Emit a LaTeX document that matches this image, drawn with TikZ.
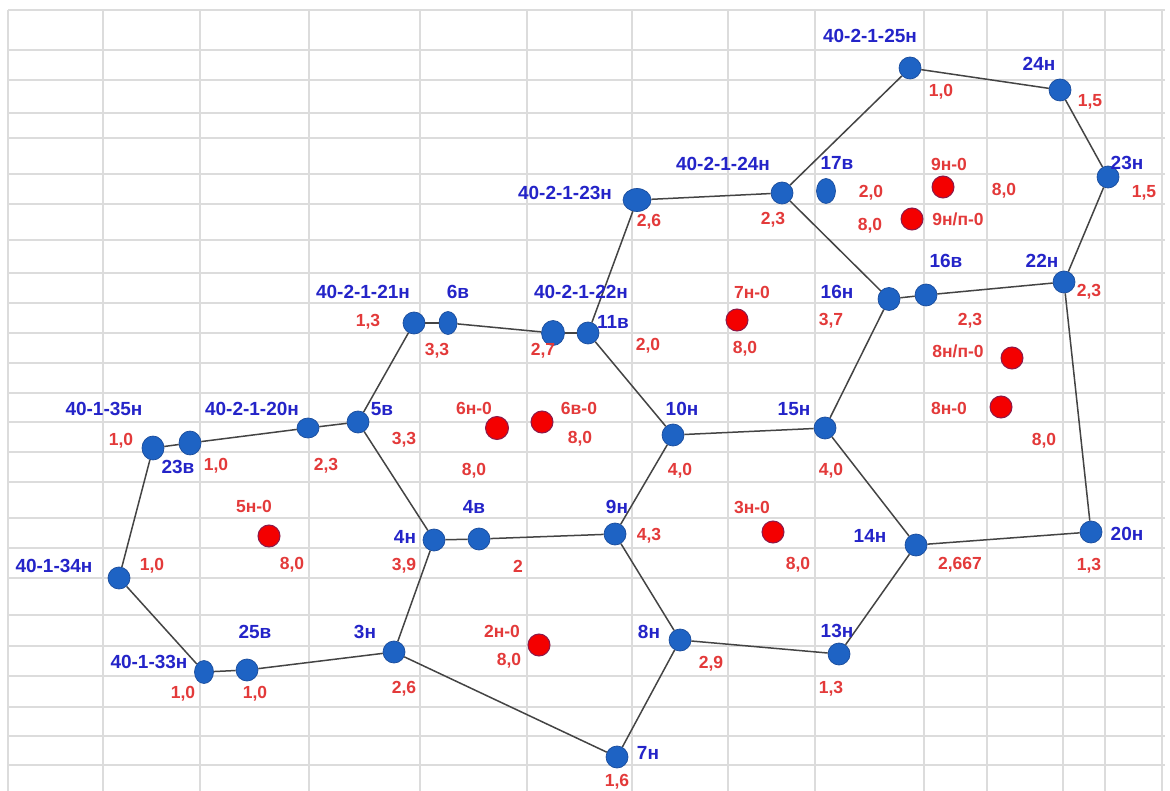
\documentclass[tikz,border=0pt]{standalone}
\usepackage{fontspec}
\setmainfont{Liberation Sans}
\usetikzlibrary{shapes.geometric}
\definecolor{gridc}{HTML}{DCDCDC}
\definecolor{nodeb}{HTML}{1E63C4}
\definecolor{nodebd}{HTML}{1A4C9C}
\definecolor{textb}{HTML}{2424C8}
\definecolor{textr}{HTML}{E33A3A}
\definecolor{dotr}{HTML}{F40000}
\definecolor{dotrd}{HTML}{8C1A4A}
\definecolor{edgec}{HTML}{444444}
\begin{document}
\begin{tikzpicture}[x=1pt,y=-1pt,
  gridline/.style={draw=gridc, line width=1.3pt},
  bn/.style={ellipse, fill=nodeb, draw=nodebd, line width=0.7pt, minimum width=22pt, minimum height=22pt, inner sep=0pt},
  rn/.style={circle, fill=dotr, draw=dotrd, line width=1pt, minimum size=22pt, inner sep=0pt},
  bl/.style={text=textb, font=\fontsize{19}{19}\selectfont\bfseries, inner sep=0pt},
  rl/.style={text=textr, font=\fontsize{17.5}{17.5}\selectfont\bfseries, inner sep=0pt},
  link/.style={draw=edgec, line width=1.5pt}]
\useasboundingbox (0,0) rectangle (1170,791);
\fill[white] (0,0) rectangle (1170,791);
% grid
\foreach \gx in {8,103,200,309,420,527,632,728,815,924,987,1063,1105,1162}
  \draw[gridline] (\gx,10) -- (\gx,791);
\foreach \gy in {10,50,80,113,138,174,204,240,273,303,333,363,393,422,452,482,518,548,578,615,646,676,707,736,765}
  \draw[gridline] (8,\gy) -- (1165,\gy);
% blue nodes
\node[bn] (a25) at (910,68) {};
\node[bn] (n24) at (1060,90) {};
\node[bn] (n23) at (1108,177) {};
\node[bn] (a24) at (782,193) {};
\node[bn, minimum width=19pt, minimum height=25pt] (v17) at (826,191) {};
\node[bn, minimum width=28pt, minimum height=23pt] (a23) at (637,200) {};
\node[bn] (n22) at (1064,282) {};
\node[bn, minimum width=22pt, minimum height=23pt] (n16) at (889,299) {};
\node[bn] (v16) at (926,295) {};
\node[bn] (a21) at (414,323) {};
\node[bn, minimum width=18pt, minimum height=23pt] (v6) at (448,323) {};
\node[bn, minimum width=23pt, minimum height=25pt] (a22) at (553,333) {};
\node[bn] (v11) at (588,333) {};
\node[bn, minimum width=22pt, minimum height=20pt] (a20) at (308,428) {};
\node[bn, minimum width=22pt, minimum height=22pt] (v5) at (358,422) {};
\node[bn, minimum width=22pt, minimum height=24pt] (b35) at (153,448) {};
\node[bn, minimum width=22pt, minimum height=24pt] (v23) at (190,443) {};
\node[bn] (n10) at (673,435) {};
\node[bn] (n15) at (825,428) {};
\node[bn] (n4) at (434,540) {};
\node[bn] (v4) at (479,539) {};
\node[bn] (n9) at (615,534) {};
\node[bn] (n14) at (916,545) {};
\node[bn] (n20) at (1091,532) {};
\node[bn] (b34) at (119,578) {};
\node[bn] (n3) at (394,652) {};
\node[bn] (n8) at (680,640) {};
\node[bn] (n13) at (839,654) {};
\node[bn, minimum width=19pt, minimum height=23pt] (b33) at (204,672) {};
\node[bn] (v25) at (247,670) {};
\node[bn] (n7) at (617,757) {};
% red dots
\node[rn] (r9) at (943,187) {};
\node[rn] (r9p) at (912,219) {};
\node[rn] (r7) at (737,320) {};
\node[rn] (r8p) at (1012,358) {};
\node[rn] (r8) at (1001,407) {};
\node[rn, minimum size=23pt] (r6n) at (497,428) {};
\node[rn] (r6v) at (542,422) {};
\node[rn] (r5) at (269,536) {};
\node[rn] (r3) at (773,532) {};
\node[rn] (r2) at (539,645) {};
% connectors
\draw[link] (a25) -- (n24);
\draw[link] (n24) -- (n23);
\draw[link] (n23) -- (n22);
\draw[link] (n22) -- (n20);
\draw[link] (n22) -- (v16);
\draw[link] (v16) -- (n16);
\draw[link] (a25) -- (a24);
\draw[link] (a24) -- (a23);
\draw[link] (a23) -- (v11);
\draw[link] (a24) -- (n16);
\draw[link] (n16) -- (n15);
\draw[link] (n15) -- (n10);
\draw[link] (n15) -- (n14);
\draw[link] (n14) -- (n20);
\draw[link] (n14) -- (n13);
\draw[link] (n13) -- (n8);
\draw[link] (n8) -- (n7);
\draw[link] (n8) -- (n9);
\draw[link] (n9) -- (n10);
\draw[link] (n10) -- (v11);
\draw[link] (v11) -- (a22);
\draw[link] (a22) -- (v6);
\draw[link] (v6) -- (a21);
\draw[link] (a21) -- (v5);
\draw[link] (v5) -- (a20);
\draw[link] (a20) -- (v23);
\draw[link] (v23) -- (b35);
\draw[link] (v5) -- (n4);
\draw[link] (n4) -- (v4);
\draw[link] (v4) -- (n9);
\draw[link] (n4) -- (n3);
\draw[link] (n3) -- (n7);
\draw[link] (n3) -- (v25);
\draw[link] (v25) -- (b33);
\draw[link] (b33) -- (b34);
\draw[link] (b34) -- (b35);
% blue labels
\node[bl] (ta25) at (870,36) {40-2-1-25н};
\node[bl] (tn24) at (1039,64) {24н};
\node[bl] (tn23) at (1127,163) {23н};
\node[bl] (ta24) at (723,164) {40-2-1-24н};
\node[bl] (tv17) at (837,163) {17в};
\node[bl] (ta23) at (565,193) {40-2-1-23н};
\node[bl] (tv16) at (946,261) {16в};
\node[bl] (tn22) at (1042,261) {22н};
\node[bl] (tn16) at (837,292) {16н};
\node[bl] (ta21) at (363,292) {40-2-1-21н};
\node[bl] (tv6) at (458,292) {6в};
\node[bl] (ta22) at (581,292) {40-2-1-22н};
\node[bl] (tv11) at (613,322) {11в};
\node[bl] (tb35) at (104,409) {40-1-35н};
\node[bl] (ta20) at (252,409) {40-2-1-20н};
\node[bl] (tv5) at (382,409) {5в};
\node[bl] (tn10) at (682,409) {10н};
\node[bl] (tn15) at (794,409) {15н};
\node[bl] (tv23) at (178,467) {23в};
\node[bl] (tv4) at (474,507) {4в};
\node[bl] (tn9) at (617,507) {9н};
\node[bl] (tn4) at (405,537) {4н};
\node[bl] (tn14) at (870,536) {14н};
\node[bl] (tn20) at (1127,534) {20н};
\node[bl] (tb34) at (54,566) {40-1-34н};
\node[bl] (tv25) at (255,632) {25в};
\node[bl] (tn3) at (365,632) {3н};
\node[bl] (tn8) at (649,632) {8н};
\node[bl] (tn13) at (837,631) {13н};
\node[bl] (tb33) at (149,662) {40-1-33н};
\node[bl] (tn7) at (648,753) {7н};
% red labels
\node[rl] (s1) at (941,92) {1,0};
\node[rl] (s2) at (1090,102) {1,5};
\node[rl] (s3) at (1144,193) {1,5};
\node[rl] (s4) at (649,222) {2,6};
\node[rl] (s5) at (773,220) {2,3};
\node[rl] (s6) at (871,193) {2,0};
\node[rl] (s7) at (949,164) {9н-0};
\node[rl] (s8) at (1004,191) {8,0};
\node[rl] (s9) at (958,219) {9н/п-0};
\node[rl] (s10) at (870,226) {8,0};
\node[rl] (s11) at (1089,292) {2,3};
\node[rl] (s12) at (831,321) {3,7};
\node[rl] (s13) at (970,321) {2,3};
\node[rl] (s14) at (368,322) {1,3};
\node[rl] (s15) at (437,351) {3,3};
\node[rl] (s16) at (543,351) {2,7};
\node[rl] (s17) at (648,346) {2,0};
\node[rl] (s18) at (752,292) {7н-0};
\node[rl] (s19) at (745,349) {8,0};
\node[rl] (s20) at (958,351) {8н/п-0};
\node[rl] (s21) at (949,408) {8н-0};
\node[rl] (s22) at (1044,441) {8,0};
\node[rl] (s23) at (474,408) {6н-0};
\node[rl] (s24) at (579,408) {6в-0};
\node[rl] (s25) at (580,439) {8,0};
\node[rl] (s26) at (404,440) {3,3};
\node[rl] (s27) at (474,471) {8,0};
\node[rl] (s28) at (121,441) {1,0};
\node[rl] (s29) at (216,466) {1,0};
\node[rl] (s30) at (326,466) {2,3};
\node[rl] (s31) at (680,471) {4,0};
\node[rl] (s32) at (831,471) {4,0};
\node[rl] (s33) at (254,506) {5н-0};
\node[rl] (s34) at (292,565) {8,0};
\node[rl] (s35) at (404,566) {3,9};
\node[rl] (s36) at (518,566) {2};
\node[rl] (s37) at (649,536) {4,3};
\node[rl] (s38) at (752,507) {3н-0};
\node[rl] (s39) at (798,565) {8,0};
\node[rl] (s40) at (960,565) {2,667};
\node[rl] (s41) at (1089,566) {1,3};
\node[rl] (s42) at (152,566) {1,0};
\node[rl] (s43) at (404,689) {2,6};
\node[rl] (s44) at (502,631) {2н-0};
\node[rl] (s45) at (509,661) {8,0};
\node[rl] (s46) at (711,664) {2,9};
\node[rl] (s47) at (831,689) {1,3};
\node[rl] (s48) at (183,694) {1,0};
\node[rl] (s49) at (255,694) {1,0};
\node[rl] (s50) at (617,782) {1,6};
\end{tikzpicture}
\end{document}
